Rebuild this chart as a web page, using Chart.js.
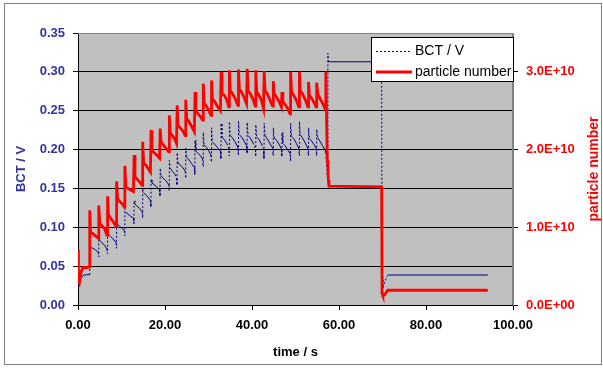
<!DOCTYPE html>
<html>
<head>
<meta charset="utf-8">
<script src="https://cdn.jsdelivr.net/npm/chart.js@4"></script>
<style>
  html, body { margin: 0; padding: 0; background: #ffffff; }
  canvas { display: block; }
</style>
</head>
<body>
<canvas id="chart" width="603" height="369"></canvas>
<script>
// time in seconds (shared by both series)
const timeS = [
  0, 0.1, 0.3, 0.7, 1.1, 2.0,
  2.65, 2.7, 2.9, 3.4, 4.0, 4.65,
  4.75, 4.8, 5.0, 5.5, 6.1, 6.65,
  6.75, 6.8, 7.0, 7.5, 8.1, 8.75,
  8.85, 8.9, 9.1, 9.6, 10.2, 10.65,
  10.75, 10.8, 11.0, 11.5, 12.1, 12.75,
  12.85, 12.9, 13.1, 13.6, 14.2, 14.75,
  14.85, 14.9, 15.1, 15.6, 16.2, 16.65,
  16.75, 16.8, 17.0, 17.5, 18.1, 18.75,
  18.85, 18.9, 19.1, 19.6, 20.2, 20.85,
  20.95, 21.0, 21.2, 21.7, 22.3, 22.65,
  22.75, 22.8, 23.0, 23.5, 24.1, 24.65,
  24.75, 24.8, 25.0, 25.5, 26.1, 26.75,
  26.85, 26.9, 27.1, 27.6, 28.2, 28.65,
  28.75, 28.8, 29.0, 29.5, 30.1, 30.55,
  30.65, 30.7, 30.9, 31.4, 32.0, 32.75,
  32.85, 32.9, 33.1, 33.6, 34.2, 34.65,
  34.75, 34.8, 35.0, 35.5, 36.1, 36.75,
  36.85, 36.9, 37.1, 37.6, 38.2, 38.75,
  38.85, 38.9, 39.1, 39.6, 40.2, 40.75,
  40.85, 40.9, 41.1, 41.6, 42.2, 42.65,
  42.75, 42.8, 43.0, 43.5, 44.1, 44.75,
  44.85, 44.9, 45.1, 45.6, 46.2, 46.75,
  46.85, 46.9, 47.1, 47.6, 48.2, 48.75,
  48.85, 48.9, 49.1, 49.6, 50.2, 50.75,
  50.85, 50.9, 51.1, 51.6, 52.2, 52.85,
  52.95, 53.0, 53.2, 53.7, 54.3, 54.75,
  54.85, 54.9, 55.1, 55.6, 56.2, 56.85,
  56.95, 57.0, 57.1, 57.3, 57.45, 57.55, 57.7, 69.8, 69.9, 70.1, 70.5, 71.2, 71.4, 94.2
];

// BCT signal in volts (left axis)
const bctV = [
  0.022, 0.023, 0.025, 0.033, 0.038, 0.039,
  0.039, 0.077, 0.074, 0.073, 0.071, 0.068,
  0.062, 0.085, 0.083, 0.080, 0.077, 0.072,
  0.066, 0.093, 0.091, 0.088, 0.085, 0.080,
  0.073, 0.106, 0.104, 0.101, 0.098, 0.096,
  0.089, 0.124, 0.119, 0.117, 0.114, 0.112,
  0.105, 0.134, 0.130, 0.127, 0.124, 0.120,
  0.112, 0.150, 0.144, 0.142, 0.138, 0.134,
  0.126, 0.162, 0.157, 0.155, 0.152, 0.148,
  0.140, 0.176, 0.166, 0.163, 0.160, 0.155,
  0.147, 0.186, 0.176, 0.172, 0.168, 0.164,
  0.154, 0.196, 0.183, 0.180, 0.177, 0.172,
  0.163, 0.202, 0.190, 0.187, 0.182, 0.177,
  0.168, 0.212, 0.198, 0.195, 0.192, 0.188,
  0.178, 0.222, 0.206, 0.203, 0.198, 0.193,
  0.184, 0.228, 0.210, 0.207, 0.203, 0.198,
  0.188, 0.234, 0.216, 0.213, 0.208, 0.202,
  0.192, 0.236, 0.218, 0.215, 0.210, 0.203,
  0.193, 0.237, 0.219, 0.216, 0.211, 0.205,
  0.195, 0.235, 0.218, 0.215, 0.209, 0.202,
  0.191, 0.232, 0.216, 0.213, 0.207, 0.200,
  0.188, 0.234, 0.218, 0.214, 0.208, 0.202,
  0.192, 0.228, 0.215, 0.212, 0.207, 0.201,
  0.191, 0.222, 0.208, 0.205, 0.200, 0.195,
  0.185, 0.234, 0.217, 0.214, 0.208, 0.202,
  0.192, 0.236, 0.219, 0.215, 0.209, 0.202,
  0.192, 0.228, 0.214, 0.211, 0.206, 0.202,
  0.192, 0.226, 0.215, 0.211, 0.205, 0.199,
  0.199, 0.196, 0.185, 0.167, 0.324, 0.313, 0.313, 0.313, 0.036, 0.022, 0.030, 0.038, 0.0386, 0.0386
];

// particle number in units of 1E+10 (right axis)
const particlesE10 = [
  0.71, 0.30, 0.28, 0.42, 0.48, 0.48,
  0.49, 1.22, 0.93, 0.92, 0.89, 0.86,
  0.86, 1.28, 1.05, 1.02, 0.98, 0.90,
  0.90, 1.40, 1.16, 1.12, 1.07, 1.01,
  1.01, 1.59, 1.37, 1.33, 1.30, 1.26,
  1.26, 1.79, 1.52, 1.50, 1.48, 1.46,
  1.46, 1.93, 1.65, 1.62, 1.58, 1.54,
  1.54, 2.10, 1.82, 1.80, 1.75, 1.71,
  1.71, 2.25, 1.99, 1.96, 1.93, 1.89,
  1.89, 2.27, 2.10, 2.06, 2.02, 1.97,
  1.97, 2.44, 2.22, 2.18, 2.13, 2.08,
  2.08, 2.57, 2.31, 2.28, 2.24, 2.18,
  2.18, 2.64, 2.40, 2.36, 2.30, 2.23,
  2.23, 2.74, 2.50, 2.46, 2.42, 2.38,
  2.38, 2.85, 2.60, 2.56, 2.50, 2.44,
  2.44, 2.89, 2.65, 2.62, 2.56, 2.50,
  2.50, 3.00, 2.72, 2.70, 2.64, 2.55,
  2.55, 3.02, 2.76, 2.72, 2.66, 2.57,
  2.57, 3.03, 2.78, 2.74, 2.67, 2.59,
  2.59, 3.04, 2.76, 2.72, 2.65, 2.56,
  2.56, 3.02, 2.74, 2.70, 2.63, 2.53,
  2.53, 3.01, 2.76, 2.72, 2.64, 2.56,
  2.56, 2.88, 2.72, 2.68, 2.62, 2.55,
  2.55, 2.74, 2.62, 2.58, 2.53, 2.46,
  2.46, 3.00, 2.74, 2.70, 2.63, 2.55,
  2.55, 3.00, 2.76, 2.72, 2.65, 2.55,
  2.55, 2.87, 2.70, 2.66, 2.60, 2.55,
  2.55, 2.86, 2.72, 2.66, 2.60, 2.52,
  2.52, 3.00, 2.55, 1.86, 1.80, 1.61, 1.53, 1.52, 0.15, 0.12, 0.13, 0.19, 0.19, 0.19
];

const seriesNames = ['BCT / V', 'particle number'];

const FONT = '"Liberation Sans", Arial, sans-serif';
const NAVY = '#333399';

const bctData = timeS.map(function(t, i) { return { x: t, y: bctV[i] }; });
const particleData = timeS.map(function(t, i) { return { x: t, y: particlesE10[i] }; });

// Excel-like frame, plot background, axis titles and legend box
const excelLook = {
  id: 'excelLook',
  beforeDraw: function(chart) {
    const ctx = chart.ctx;
    const a = chart.chartArea;
    ctx.save();
    ctx.fillStyle = '#c0c0c0';
    ctx.fillRect(a.left, a.top, a.right - a.left, a.bottom - a.top);
    ctx.restore();
  },
  afterDraw: function(chart) {
    const ctx = chart.ctx;
    const a = chart.chartArea;
    ctx.save();

    // plot area border (top / right)
    ctx.strokeStyle = '#808080';
    ctx.lineWidth = 1;
    ctx.beginPath();
    ctx.moveTo(a.left, a.top + 0.5);
    ctx.lineTo(a.right - 0.5, a.top + 0.5);
    ctx.lineTo(a.right - 0.5, a.bottom);
    ctx.stroke();

    // outer chart frame
    ctx.strokeStyle = '#7f7f7f';
    ctx.strokeRect(4.5, 3.5, 597, 361);

    // axis titles
    ctx.font = 'bold 13px ' + FONT;
    ctx.textAlign = 'center';
    ctx.textBaseline = 'middle';
    ctx.fillStyle = '#000000';
    ctx.fillText('time / s', (a.left + a.right) / 2, 352);

    ctx.save();
    ctx.translate(21, 169);
    ctx.rotate(-Math.PI / 2);
    ctx.fillStyle = NAVY;
    ctx.fillText(seriesNames[0], 0, 0);
    ctx.restore();

    ctx.save();
    ctx.translate(594, 169);
    ctx.rotate(-Math.PI / 2);
    ctx.font = 'bold 14px ' + FONT;
    ctx.fillStyle = '#ff0000';
    ctx.fillText(seriesNames[1], 0, 0);
    ctx.restore();

    // legend
    ctx.fillStyle = '#ffffff';
    ctx.fillRect(371.5, 37.5, 142, 44);
    ctx.strokeStyle = '#000000';
    ctx.lineWidth = 1;
    ctx.strokeRect(371.5, 37.5, 142, 44);

    ctx.beginPath();
    ctx.setLineDash([2, 2]);
    ctx.strokeStyle = '#000080';
    ctx.moveTo(376, 51.5);
    ctx.lineTo(412, 51.5);
    ctx.stroke();

    ctx.beginPath();
    ctx.setLineDash([]);
    ctx.strokeStyle = '#ff0000';
    ctx.lineWidth = 3;
    ctx.moveTo(376, 72);
    ctx.lineTo(412, 72);
    ctx.stroke();

    ctx.font = '14px ' + FONT;
    ctx.textAlign = 'left';
    ctx.fillStyle = '#000000';
    ctx.fillText(seriesNames[0], 415, 51);
    ctx.fillText(seriesNames[1], 415, 72);

    ctx.restore();
  }
};

new Chart(document.getElementById('chart'), {
  type: 'line',
  data: {
    datasets: [{
      label: seriesNames[1],
      data: particleData,
      yAxisID: 'y1',
      borderColor: '#ff0000',
      borderWidth: 2.8,
      pointRadius: 0,
      tension: 0,
      fill: false
    }, {
      label: seriesNames[0],
      data: bctData,
      yAxisID: 'y',
      borderColor: '#000080',
      borderWidth: 1,
      pointRadius: 0,
      tension: 0,
      fill: false,
      segment: {
        // steep jumps show the dotted line style, slow decays look solid
        borderDash: function(c) {
          const dx = Math.abs(c.p1.x - c.p0.x);
          const dy = Math.abs(c.p1.y - c.p0.y);
          return (dy > 3 && dy > 2 * dx) ? [2, 2] : undefined;
        }
      }
    }]
  },
  options: {
    responsive: false,
    animation: false,
    layout: { padding: { top: 33, left: 0, right: 0, bottom: 0 } },
    plugins: {
      legend: { display: false },
      tooltip: { enabled: false }
    },
    scales: {
      x: {
        type: 'linear',
        min: 0,
        max: 100,
        afterFit: function(s) { s.height = 64; },
        ticks: {
          stepSize: 20,
          color: '#000000',
          padding: 8,
          font: { family: FONT, size: 13, weight: 'bold' },
          callback: function(v) { return v.toFixed(2); }
        },
        grid: { drawOnChartArea: false, tickLength: 5, color: '#000000' },
        border: { color: '#000000' }
      },
      y: {
        position: 'left',
        min: 0,
        max: 0.35,
        afterFit: function(s) { s.width = 78; },
        ticks: {
          stepSize: 0.05,
          color: NAVY,
          padding: 8,
          font: { family: FONT, size: 13, weight: 'bold' },
          callback: function(v) { return v.toFixed(2); }
        },
        grid: {
          tickLength: 5,
          color: function(c) { return c.tick && c.tick.value > 0.34 ? '#808080' : '#000000'; },
          tickColor: '#000000'
        },
        border: { color: '#000000' }
      },
      y1: {
        position: 'right',
        min: 0,
        max: 3.5,
        afterFit: function(s) { s.width = 90; },
        ticks: {
          stepSize: 1,
          includeBounds: false,
          color: '#ff0000',
          padding: 8,
          font: { family: FONT, size: 13, weight: 'bold' },
          callback: function(v) { return v === 0 ? '0.0E+00' : v.toFixed(1) + 'E+10'; }
        },
        grid: { drawOnChartArea: false, tickLength: 5, color: '#000000' },
        border: { color: '#808080' }
      }
    }
  },
  plugins: [excelLook]
});
</script>
</body>
</html>
